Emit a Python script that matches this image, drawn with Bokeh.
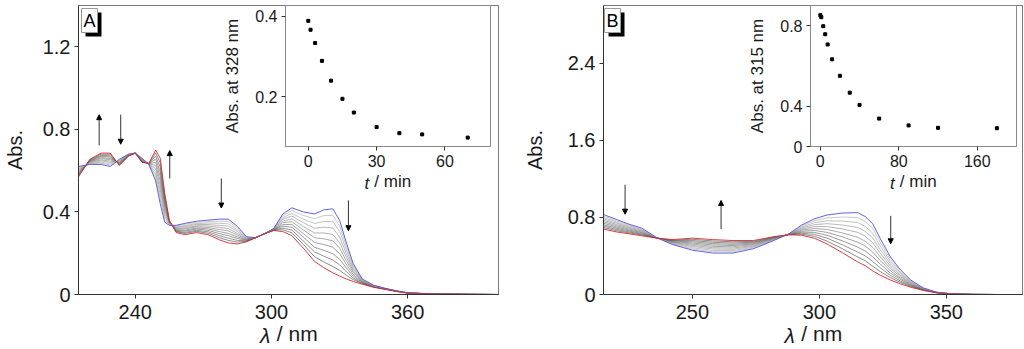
from bokeh.plotting import figure
from bokeh.models import Range1d, FixedTicker, Label, Arrow, NormalHead, GridBox, LinearAxis
from bokeh.embed import file_html
from bokeh.resources import INLINE

FONT = "Liberation Sans"
NB = "\u00a0"

# ---------------- Panel A spectra (wavelength / nm, absorbance) ----------------
wl_A = [215, 220, 225, 229, 233, 237, 240, 243, 246, 249,
        251, 253, 255, 258, 262, 267, 272, 277, 281, 285,
        289, 293, 297, 301, 305, 309, 314, 319, 323, 327,
        330, 333, 336, 340, 345, 350, 355, 360, 370, 385,
        400]
# final spectrum (red)
A_0 = [.57, .655, .685, .685, .625, .67, .685, .64, .635, .70,
       .66, .49, .36, .30, .29, .30, .29, .265, .25, .245,
       .255, .275, .295, .31, .305, .285, .225, .16, .13, .105,
       .09, .075, .063, .05, .035, .025, .015, .007, .003, .001,
       0]
A_1 = [.575, .653, .68, .679, .628, .671, .685, .642, .635, .685,
       .638, .476, .358, .304, .296, .306, .297, .275, .262, .254,
       .258, .275, .295, .311, .314, .299, .243, .183, .158, .136,
       .117, .093, .072, .053, .036, .026, .015, .007, .003, .001,
       0]
A_2 = [.58, .65, .674, .672, .631, .672, .685, .644, .634, .67,
       .616, .462, .355, .307, .301, .311, .304, .285, .273, .262,
       .26, .275, .295, .312, .322, .312, .26, .206, .186, .167,
       .144, .11, .08, .055, .037, .026, .016, .007, .003, .001,
       0]
A_3 = [.585, .648, .669, .666, .634, .673, .685, .646, .634, .655,
       .594, .448, .353, .311, .307, .317, .311, .295, .285, .271,
       .263, .275, .295, .313, .331, .326, .278, .229, .214, .198,
       .171, .128, .089, .058, .038, .027, .016, .007, .003, .001,
       0]
A_4 = [.59, .645, .663, .659, .637, .674, .685, .648, .633, .64,
       .572, .434, .35, .314, .312, .322, .318, .305, .296, .279,
       .265, .275, .295, .314, .339, .339, .295, .252, .242, .229,
       .198, .145, .098, .06, .039, .027, .016, .007, .003, .001,
       0]
A_5 = [.595, .643, .658, .653, .64, .675, .685, .65, .633, .625,
       .55, .42, .348, .318, .318, .328, .325, .315, .308, .288,
       .268, .275, .295, .315, .348, .353, .313, .275, .27, .26,
       .225, .163, .107, .063, .04, .028, .017, .008, .003, .001,
       0]
A_6 = [.60, .64, .652, .646, .643, .676, .685, .652, .632, .61,
       .528, .406, .345, .321, .323, .333, .332, .325, .319, .296,
       .27, .275, .295, .316, .356, .366, .33, .298, .298, .291,
       .252, .18, .115, .065, .041, .028, .017, .008, .003, .001,
       0]
A_7 = [.605, .638, .647, .64, .646, .677, .685, .654, .632, .595,
       .506, .392, .343, .325, .329, .339, .339, .335, .331, .305,
       .273, .275, .295, .317, .365, .38, .348, .321, .326, .322,
       .279, .198, .124, .068, .042, .029, .017, .008, .003, .001,
       0]
A_8 = [.61, .635, .641, .633, .649, .678, .685, .656, .631, .58,
       .484, .378, .34, .328, .334, .344, .346, .345, .342, .313,
       .275, .275, .295, .318, .373, .393, .365, .344, .354, .353,
       .306, .215, .133, .07, .043, .029, .017, .008, .003, .001,
       0]
A_9 = [.615, .633, .636, .627, .652, .679, .685, .658, .631, .565,
       .462, .364, .338, .332, .34, .35, .353, .355, .354, .322,
       .278, .275, .295, .319, .382, .407, .383, .367, .382, .384,
       .333, .233, .141, .073, .044, .03, .018, .008, .003, .001,
       0]
# initial spectrum (blue)
A_10 = [.62, .63, .63, .62, .655, .68, .685, .66, .63, .55,
        .44, .35, .335, .335, .345, .355, .36, .365, .365, .33,
        .28, .275, .295, .32, .39, .42, .40, .39, .41, .415,
        .36, .25, .15, .075, .045, .03, .018, .008, .003, .001,
        0]

# ---------------- Panel B spectra ----------------
wl_B = [215, 220, 225, 230, 236, 242, 250, 258, 266, 274,
        282, 288, 293, 298, 303, 309, 315, 318, 321, 324,
        328, 332, 336, 341, 346, 352, 360, 370, 380]
B_0 = [.68, .65, .63, .61, .585, .57, .585, .57, .56, .56,
       .60, .62, .615, .585, .525, .435, .34, .30, .245, .20,
       .15, .11, .075, .042, .018, .005, .001, 0, 0]
B_1 = [.695, .663, .64, .618, .586, .565, .573, .556, .547, .552,
       .596, .621, .626, .605, .555, .476, .391, .351, .294, .238,
       .174, .125, .083, .045, .019, .005, .001, 0, 0]
B_2 = [.71, .676, .65, .626, .586, .56, .56, .542, .534, .543,
       .592, .622, .636, .625, .585, .517, .442, .402, .343, .276,
       .198, .139, .09, .047, .019, .005, .001, 0, 0]
B_3 = [.725, .689, .66, .634, .587, .555, .548, .528, .521, .535,
       .588, .623, .647, .645, .615, .558, .493, .453, .392, .314,
       .222, .154, .098, .05, .02, .006, .001, 0, 0]
B_4 = [.74, .702, .67, .642, .587, .55, .535, .514, .508, .526,
       .584, .624, .657, .665, .645, .599, .544, .504, .441, .352,
       .246, .168, .105, .052, .021, .006, .001, 0, 0]
B_5 = [.755, .715, .68, .65, .588, .545, .523, .50, .495, .518,
       .58, .625, .668, .685, .675, .64, .595, .555, .49, .39,
       .27, .183, .113, .055, .022, .006, .001, 0, 0]
B_6 = [.77, .728, .69, .658, .588, .54, .51, .486, .482, .509,
       .576, .626, .678, .705, .705, .681, .646, .606, .539, .428,
       .294, .197, .12, .058, .022, .006, .001, 0, 0]
B_7 = [.785, .741, .70, .666, .589, .535, .498, .472, .469, .501,
       .572, .627, .689, .725, .735, .722, .697, .657, .588, .466,
       .318, .212, .128, .06, .023, .006, .001, 0, 0]
B_8 = [.80, .754, .71, .674, .589, .53, .485, .458, .456, .492,
       .568, .628, .699, .745, .765, .763, .748, .708, .637, .504,
       .342, .226, .135, .063, .024, .007, .001, 0, 0]
B_9 = [.815, .767, .72, .682, .59, .525, .473, .444, .443, .484,
       .564, .629, .71, .765, .795, .804, .799, .759, .686, .542,
       .366, .241, .143, .065, .024, .007, .001, 0, 0]
B_10 = [.83, .78, .73, .69, .59, .52, .46, .43, .43, .475,
        .56, .63, .72, .785, .825, .845, .85, .81, .735, .58,
        .39, .255, .15, .068, .025, .007, .001, 0, 0]

# ---------------- Insets (kinetics) ----------------
t_A = [0, 1, 3, 6, 10, 15, 20, 30, 40, 50, 70]
abs328 = [0.388, 0.366, 0.333, 0.289, 0.240, 0.195, 0.161, 0.125, 0.110, 0.107, 0.099]
t_B = [0, 1, 3, 5, 7.5, 12, 20, 30, 40, 60, 90, 120, 180]
abs315 = [0.854, 0.844, 0.799, 0.759, 0.708, 0.634, 0.552, 0.468, 0.407, 0.339, 0.305, 0.293, 0.291]

# ---------------- Arrows (wavelength, start abs, end abs) ----------------
arrA_x = [224.1, 233.6, 255.2, 277.9, 333.9]
arrA_from = [0.722, 0.871, 0.562, 0.562, 0.456]
arrA_to = [0.871, 0.728, 0.697, 0.419, 0.309]
arrB_x = [223.5, 261.3, 328.1]
arrB_from = [1.14, 0.68, 0.816]
arrB_to = [0.834, 0.976, 0.527]

# tick values
xticks_A = [240, 300, 360]
yticks_A = [0, 0.4, 0.8, 1.2]
xticks_B = [250, 300, 350]
yticks_B = [0, 0.8, 1.6, 2.4]

spectra_A = [A_0, A_1, A_2, A_3, A_4, A_5, A_6, A_7, A_8, A_9, A_10]
spectra_B = [B_0, B_1, B_2, B_3, B_4, B_5, B_6, B_7, B_8, B_9, B_10]

BLUE = "#5050e0"
RED = "#d42a2a"


def style_axis(ax, tick_size, label_size, axis_color, standoff):
    ax.axis_line_color = axis_color
    ax.major_tick_line_color = "#333333"
    ax.minor_tick_line_color = None
    ax.major_tick_out = 4
    ax.major_tick_in = 0
    ax.major_label_text_font = FONT
    ax.major_label_text_font_size = tick_size
    ax.major_label_text_color = "#1a1a1a"
    ax.axis_label_text_font = FONT
    ax.axis_label_text_font_size = label_size
    ax.axis_label_text_font_style = "normal"
    ax.axis_label_text_color = "#1a1a1a"
    ax.major_label_standoff = standoff


def split_xlabel(p, ital, rest, pad_ital, pad_rest, size, standoff1, standoff2):
    """x-axis label with an italic first symbol: the plain part sits on the
    main axis, the italic symbol on a tick-less second axis pulled up onto
    the same line."""
    ax = p.xaxis[0]
    ax.axis_label = NB * pad_rest + rest
    ax.axis_label_standoff = standoff1
    ax2 = LinearAxis(ticker=FixedTicker(ticks=[]), axis_label=ital + NB * pad_ital,
                     axis_line_color=None, major_tick_line_color=None,
                     minor_tick_line_color=None, major_tick_out=0, major_tick_in=0,
                     major_label_text_font_size="0px", axis_label_standoff=standoff2,
                     axis_label_text_font=FONT, axis_label_text_font_size=size,
                     axis_label_text_font_style="italic", axis_label_text_color="#1a1a1a")
    p.add_layout(ax2, "below")


def tag(p, text, x, y, xo):
    p.add_layout(Label(x=x, y=y, x_offset=xo + 4, y_offset=-7, text=text, text_font=FONT,
                       text_font_size="18px", text_color="black", text_baseline="top",
                       text_align="left", background_fill_color="black", padding=2))
    p.add_layout(Label(x=x, y=y, x_offset=xo, y_offset=-3, text=text, text_font=FONT,
                       text_font_size="18px", text_color="black", text_baseline="top",
                       text_align="left", background_fill_color="white",
                       border_line_color="#9a9a9a", padding=2))


def main_panel(wl, spectra, xr, yr, xt, yt, bl, br, ax_x, ax_from, ax_to, letter, tag_xo, ylab_so):
    p = figure(width=512, height=349, x_range=Range1d(*xr), y_range=Range1d(*yr),
               output_backend="svg", toolbar_location=None,
               min_border_left=bl, min_border_right=br, min_border_top=1, min_border_bottom=54)
    p.outline_line_color = "#7a7a7a"
    p.background_fill_color = "white"
    p.border_fill_color = "white"
    p.xgrid.visible = False
    p.ygrid.visible = False
    p.xaxis.ticker = FixedTicker(ticks=xt)
    p.yaxis.ticker = FixedTicker(ticks=yt)
    p.yaxis.major_label_overrides = {0: "0"}
    p.yaxis.axis_label = "Abs."
    p.yaxis.axis_label_standoff = ylab_so
    style_axis(p.xaxis[0], "20px", "21px", "#333333", 6)
    style_axis(p.yaxis[0], "20px", "20px", "#333333", 4)
    split_xlabel(p, "\u03bb", "/ nm", 8, 3, "21px", 0, -24)
    n = len(spectra)
    for k in range(1, n - 1):
        g = int(60 + (k - 1) * (165 - 60) / (n - 3))
        p.line(wl, spectra[k], line_color="#%02x%02x%02x" % (g, g, g), line_width=0.6)
    p.line(wl, spectra[-1], line_color=BLUE, line_width=0.9)
    p.line(wl, spectra[0], line_color=RED, line_width=0.9)
    for x, a, b in zip(ax_x, ax_from, ax_to):
        p.add_layout(Arrow(x_start=x, y_start=a, x_end=x, y_end=b, line_color="#333333",
                           line_width=1,
                           end=NormalHead(size=5, fill_color="black", line_color="black")))
    tag(p, letter, xr[0], yr[1], tag_xo)
    return p


pA = main_panel(wl_A, spectra_A, (215, 400), (0, 1.4), xticks_A, yticks_A, 77, 14,
                arrA_x, arrA_from, arrA_to, "A", 3, 14)
pB = main_panel(wl_B, spectra_B, (215, 380), (0, 3.0), xticks_B, yticks_B, 91, 2,
                arrB_x, arrB_from, arrB_to, "B", 1, 19)


def inset(t, a, xr, yr, xt, yt, overrides, label, width, bl, br):
    p = figure(width=width, height=195, x_range=Range1d(*xr), y_range=Range1d(*yr),
               output_backend="svg", toolbar_location=None,
               min_border_left=bl, min_border_right=br, min_border_top=5, min_border_bottom=48)
    p.border_fill_color = None
    p.background_fill_color = "white"
    p.outline_line_color = "#8a8a8a"
    p.xgrid.visible = False
    p.ygrid.visible = False
    p.xaxis.ticker = FixedTicker(ticks=xt)
    p.yaxis.ticker = FixedTicker(ticks=yt)
    p.yaxis.major_label_overrides = overrides
    p.yaxis.axis_label = label
    p.yaxis.axis_label_standoff = 10
    style_axis(p.xaxis[0], "16px", "17px", "#8a8a8a", 4)
    style_axis(p.yaxis[0], "16px", "17px", "#8a8a8a", 4)
    split_xlabel(p, "t", "/ min", 9, 2, "17px", 2, -20)
    p.scatter(t, a, marker="square", size=3, fill_color="black", line_color="black")
    return p


iA = inset(t_A, abs328, (-10, 80), (0.077, 0.426), [0, 30, 60], [0.2, 0.4],
           {}, "Abs. at 328 nm", 280, 60, 10)
iB = inset(t_B, abs315, (-10, 200), (0.2, 0.902), [0, 80, 160], [0.2, 0.4, 0.8],
           {0.2: "0"}, "Abs. at 315 nm", 275, 61, 4)

grid = GridBox(children=[(pA, 0, 0, 2, 3), (pB, 0, 3, 2, 3), (iA, 0, 1, 1, 1), (iB, 0, 4, 1, 1)],
               rows=["195px", "154px"],
               cols=["220px", "280px", "12px", "233px", "275px", "4px"],
               spacing=0)

open("out.html", "w").write(file_html(grid, INLINE))
